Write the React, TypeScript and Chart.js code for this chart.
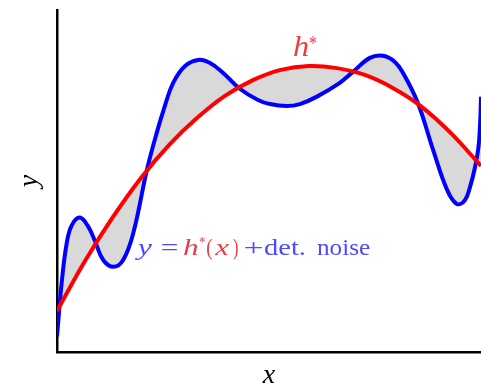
import { useEffect, useRef } from "react";
import { Chart, registerables } from "chart.js";

Chart.register(...registerables);

// Smooth target function h*(x)
const truthX = [0, 0.66, 1.32, 1.98, 2.64, 3.3, 3.96, 4.62, 5.28, 5.94, 6.6, 7.26, 7.92, 8.58, 9.29, 10];
const truthY = [1.2, 2.66, 3.95, 5.09, 6.05, 6.84, 7.49, 7.95, 8.25, 8.36, 8.3, 8.1, 7.72, 7.19, 6.4, 5.44];

// Observed y = h*(x) + deterministic noise
const noisyX = [
  0, 0.11, 0.23, 0.35, 0.54, 0.74, 0.9, 1.09, 1.33, 1.56, 1.8, 2.12, 2.35, 2.55, 2.74, 3.02,
  3.33, 3.61, 3.92, 4.32, 4.74, 5.02, 5.42, 5.73, 6.12, 6.67, 6.98, 7.38, 7.69, 7.97, 8.16,
  8.51, 8.87, 9.2, 9.43, 9.62, 9.74, 9.86, 9.94, 9.98, 10,
];
const noisyY = [
  0.45, 2.02, 3.19, 3.71, 3.93, 3.66, 3.23, 2.69, 2.49, 2.69, 3.48, 5.32, 6.4, 7.22, 7.87, 8.36,
  8.54, 8.45, 8.16, 7.69, 7.37, 7.25, 7.19, 7.25, 7.46, 7.87, 8.19, 8.6, 8.66, 8.48, 8.16,
  7.28, 5.91, 4.74, 4.33, 4.44, 4.82, 5.41, 5.99, 6.7, 7.46,
];

const xTitle = "x";
const yTitle = "y";

const RED = "#ff0000";
const BLUE = "#0000ff";
const FILL = "#d9d9d9";
const TEXT_RED = "#ee3a44";
const TEXT_BLUE = "#4b4bff";
const SERIF = "'Times New Roman', 'Liberation Serif', Times, serif";

type Piece = {
  text: string;
  x0: number;
  x1: number;
  base: number;
  size: number;
  italic: boolean;
  color: string;
};

// Annotation pieces: math in italic, words upright
const annotations: Piece[] = [
  { text: "h", x0: 294, x1: 308, base: 56, size: 30, italic: true, color: TEXT_RED },
  { text: "*", x0: 309, x1: 317, base: 50, size: 20, italic: false, color: TEXT_RED },
  { text: "y", x0: 135, x1: 153, base: 255, size: 23, italic: true, color: TEXT_BLUE },
  { text: "=", x0: 162, x1: 177, base: 255, size: 23, italic: false, color: TEXT_BLUE },
  { text: "h", x0: 183, x1: 198, base: 255, size: 23, italic: true, color: TEXT_RED },
  { text: "*", x0: 199, x1: 205, base: 247, size: 15, italic: false, color: TEXT_RED },
  { text: "(", x0: 207, x1: 212, base: 255, size: 23, italic: false, color: TEXT_RED },
  { text: "x", x0: 214, x1: 230, base: 255, size: 23, italic: true, color: TEXT_RED },
  { text: ")", x0: 233, x1: 238, base: 255, size: 23, italic: false, color: TEXT_RED },
  { text: "+", x0: 245, x1: 262, base: 255, size: 23, italic: false, color: TEXT_BLUE },
  { text: "det.", x0: 264, x1: 305, base: 255, size: 23, italic: false, color: TEXT_BLUE },
  { text: "noise", x0: 317, x1: 370, base: 255, size: 23, italic: false, color: TEXT_BLUE },
];

const annotationPlugin = {
  id: "mathAnnotations",
  afterDraw(chart: Chart) {
    const ctx = chart.ctx;
    for (const p of annotations) {
      ctx.save();
      ctx.font = `${p.italic ? "italic " : ""}${p.size}px ${SERIF}`;
      ctx.fillStyle = p.color;
      ctx.textAlign = "left";
      ctx.textBaseline = "alphabetic";
      const m = ctx.measureText(p.text);
      const ink = m.actualBoundingBoxLeft + m.actualBoundingBoxRight || m.width;
      const sx = (p.x1 - p.x0) / ink;
      ctx.translate(p.x0 + m.actualBoundingBoxLeft * sx, p.base);
      ctx.scale(sx, 1);
      ctx.fillText(p.text, 0, 0);
      ctx.restore();
    }
  },
};

export default function App() {
  const canvasRef = useRef<HTMLCanvasElement | null>(null);

  useEffect(() => {
    const canvas = canvasRef.current;
    if (!canvas) return;
    const chart = new Chart(canvas, {
      type: "line",
      data: {
        datasets: [
          {
            label: "h*",
            data: truthX.map((x, i) => ({ x, y: truthY[i] })),
            borderColor: RED,
            borderWidth: 4,
            pointRadius: 0,
            tension: 0.4,
            fill: false,
          },
          {
            label: "y",
            data: noisyX.map((x, i) => ({ x, y: noisyY[i] })),
            borderColor: BLUE,
            backgroundColor: FILL,
            borderWidth: 4,
            pointRadius: 0,
            tension: 0.4,
            fill: 0,
          },
        ],
      },
      options: {
        animation: false,
        responsive: true,
        maintainAspectRatio: false,
        layout: { padding: { top: 10, right: 0, left: 0, bottom: 0 } },
        plugins: {
          legend: { display: false },
          tooltip: { enabled: false },
        },
        scales: {
          x: {
            type: "linear",
            min: 0,
            max: 10,
            grid: { display: false, drawTicks: false },
            ticks: { display: false },
            border: { display: true, color: "#000", width: 2.5 },
            title: {
              display: true,
              text: xTitle,
              color: "#000",
              font: { family: SERIF, style: "italic", size: 28, lineHeight: 1 },
              padding: { top: 10, bottom: 0 },
            },
          },
          y: {
            type: "linear",
            min: 0,
            max: 10,
            grid: { display: false, drawTicks: false },
            ticks: { display: false },
            border: { display: true, color: "#000", width: 2.5 },
            title: {
              display: true,
              text: yTitle,
              color: "#000",
              font: { family: SERIF, style: "italic", size: 28, lineHeight: 1 },
              padding: { top: 16, bottom: 13 },
            },
          },
        },
      },
      plugins: [annotationPlugin],
    });
    return () => chart.destroy();
  }, []);

  return (
    <div style={{ position: "fixed", left: 0, top: 0, width: 481, height: 390, background: "#fff" }}>
      <canvas ref={canvasRef} />
    </div>
  );
}
